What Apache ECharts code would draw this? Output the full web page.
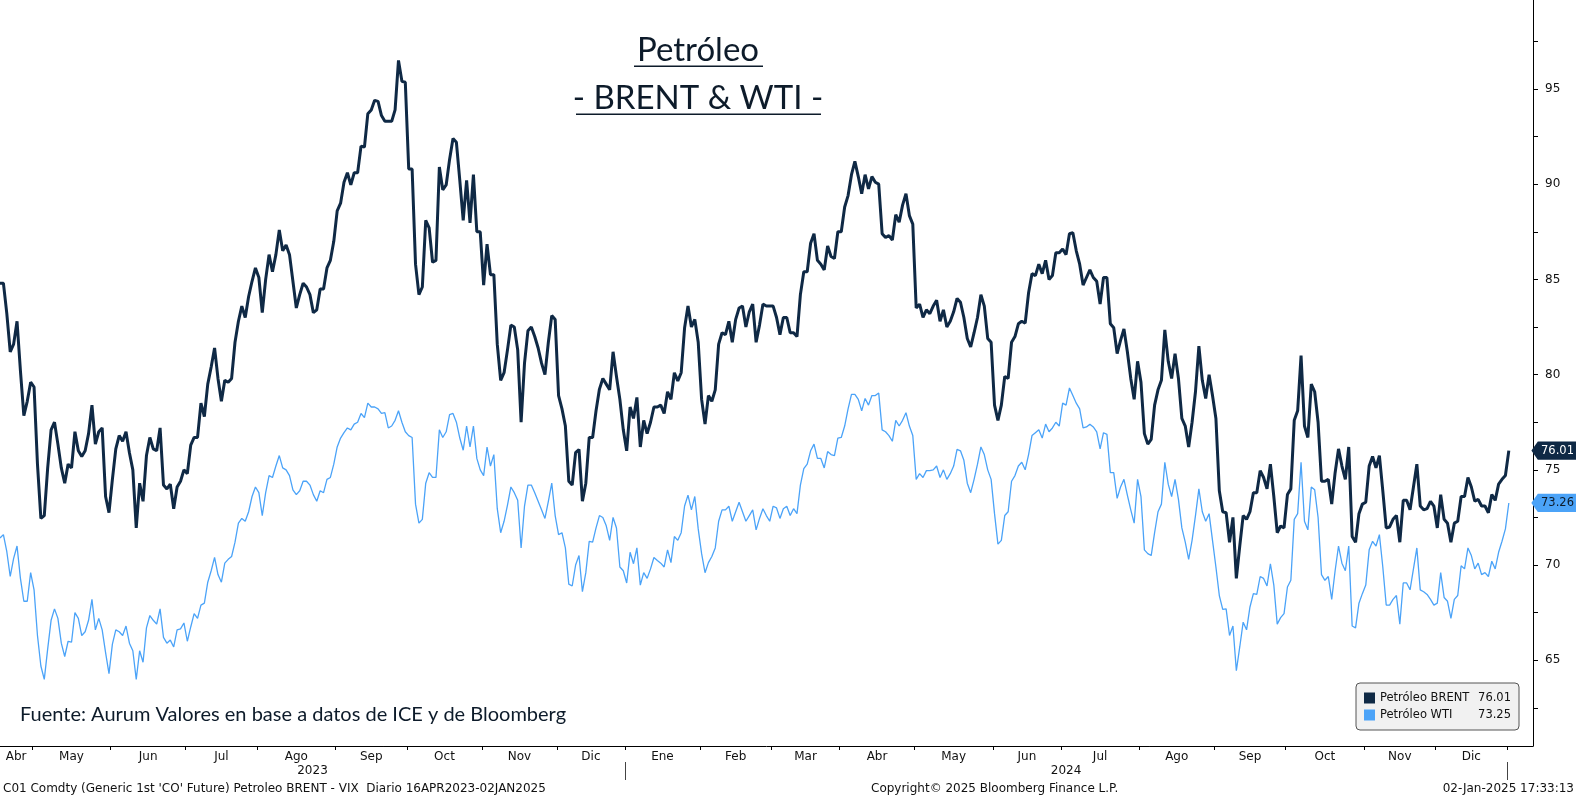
<!DOCTYPE html>
<html>
<head>
<meta charset="utf-8">
<script src="https://cdn.jsdelivr.net/npm/echarts/dist/echarts.min.js"></script>
<style>html,body{margin:0;padding:0;background:#fff}#c{width:1576px;height:798px}</style>
</head>
<body>
<div id="c"></div>
<script>
// Daily series, one value per trading day (16-Apr-2023 .. 02-Jan-2025), index = trading day
const brent = [
84.8,84.8,83.2,81.2,81.6,82.8,80.2,77.85,78.6,79.6,
79.35,75.3,72.45,72.6,75.1,77.1,77.5,76.35,75.1,74.3,
75.3,75.1,77.0,76.0,75.7,76.0,76.9,78.4,76.35,77.0,
77.2,73.6,72.75,74.5,76.1,76.8,76.5,77.0,75.9,75.0,
71.95,74.3,73.35,75.75,76.7,76.1,76.0,77.2,74.2,74.0,
74.25,72.96,74.1,74.4,75.0,74.8,76.3,76.7,76.7,78.5,
77.8,79.5,80.4,81.4,79.8,78.6,79.7,79.6,79.8,81.7,
82.8,83.6,83.0,84.1,84.9,85.6,85.1,83.25,85.0,86.3,
85.4,86.3,87.6,86.5,86.8,86.3,84.9,83.5,84.2,84.8,
84.6,84.2,83.25,83.4,84.5,84.5,85.6,86.0,87.0,88.6,
89.0,90.1,90.6,89.96,90.6,90.6,92.0,91.95,93.7,93.9,
94.4,94.35,93.6,93.3,93.3,93.3,93.9,96.5,95.4,95.35,
90.8,90.8,85.8,84.2,84.6,88.1,87.7,85.9,86.0,90.9,
89.7,89.96,91.3,92.4,92.2,90.2,88.1,90.2,87.97,90.5,
87.5,87.5,84.7,86.85,85.25,85.25,81.6,79.7,80.1,81.3,
82.6,82.5,81.3,77.5,80.6,82.3,82.5,82.0,81.4,80.6,
80.0,81.7,83.1,82.9,78.9,78.2,77.3,74.4,74.2,75.9,
76.07,73.35,74.3,76.7,76.7,78.1,79.24,79.8,79.5,79.2,
81.2,79.9,78.7,77.1,76.0,78.3,77.7,78.8,76.2,77.6,
76.9,77.5,78.3,78.3,78.4,77.96,79.1,78.7,80.1,79.67,
80.1,82.46,83.6,82.5,82.9,81.7,78.7,77.4,78.9,78.6,
79.2,81.6,82.2,82.1,82.8,81.7,82.9,83.5,83.6,82.5,
83.3,83.7,81.7,82.6,83.7,83.6,83.6,83.6,83.0,82.1,
83.0,83.0,82.2,82.2,82.0,84.2,85.4,85.4,86.9,87.4,
86.0,85.8,85.5,86.75,86.2,86.1,87.5,87.5,88.8,89.4,
90.5,91.2,90.4,89.5,90.5,89.75,90.4,90.1,90.0,87.4,
87.2,87.3,87.07,88.4,88.0,88.9,89.5,88.35,87.9,83.5,
83.7,83.0,83.4,83.2,83.6,83.9,82.8,83.4,82.5,82.8,
83.3,84.0,83.8,83.0,81.9,81.45,82.2,83.0,84.2,83.6,
81.9,81.7,78.4,77.6,78.4,79.9,79.8,81.7,82.0,82.67,
82.8,82.7,84.3,85.3,85.2,85.8,85.3,86.0,85.0,85.2,
86.4,86.4,86.6,86.3,87.4,87.45,86.5,85.8,84.7,85.1,
85.5,85.1,84.9,83.7,85.1,85.1,82.67,82.46,81.1,81.8,
82.4,81.2,79.8,78.7,80.7,79.6,76.9,76.35,76.6,78.4,
79.2,79.7,82.35,80.7,79.8,81.1,79.8,77.7,77.3,76.2,
77.5,79.1,81.5,79.7,78.75,80.0,78.9,77.7,73.9,72.8,
72.75,71.2,72.5,69.3,71.0,72.6,72.4,72.8,73.8,73.8,
74.96,74.6,74.0,75.3,73.6,71.7,72.05,71.95,73.7,74.0,
77.6,78.1,81.0,77.3,76.7,79.5,79.1,77.5,74.4,74.4,
74.5,73.2,74.85,76.1,75.2,74.5,76.2,71.5,71.2,72.7,
73.2,73.3,75.2,75.7,75.1,75.75,73.9,71.95,72.0,72.4,
72.6,71.2,73.4,73.4,72.9,74.1,75.3,73.1,72.9,72.96,
73.35,73.1,71.95,73.7,72.4,72.2,71.2,72.2,72.3,73.6,
73.6,74.6,74.1,73.35,73.45,73.1,73.1,72.75,73.7,73.4,
74.25,74.5,74.7,76.01
];
const wti = [
71.42,71.6,70.7,69.4,70.35,71.0,69.3,68.1,68.1,69.6,
68.7,66.3,64.7,64.0,65.6,67.1,67.7,67.2,65.9,65.2,
66.0,65.95,67.5,67.2,66.3,66.5,67.1,68.2,66.6,67.2,
66.6,65.4,64.3,65.85,66.6,66.5,66.3,66.8,65.9,65.5,
64.0,65.5,64.9,66.7,67.35,67.1,66.9,67.7,66.2,65.9,
66.06,65.7,66.6,66.65,66.96,66.0,66.75,67.45,67.2,67.9,
68.0,69.1,69.7,70.4,69.5,69.1,70.1,70.3,70.45,71.2,
72.2,72.45,72.3,72.8,73.6,74.1,73.8,72.6,73.8,74.7,
74.6,75.2,75.75,75.1,75.0,74.7,73.95,73.7,73.9,74.4,
74.4,74.2,73.7,73.35,73.9,73.8,74.5,74.6,75.3,76.2,
76.67,76.95,77.2,77.1,77.4,77.5,77.96,77.74,78.5,78.3,
78.3,78.2,77.96,78.0,77.2,77.3,77.6,78.1,77.5,77.0,
76.8,76.7,73.2,72.2,72.4,74.3,74.85,74.6,74.6,77.1,
76.7,77.0,77.9,77.96,77.5,76.67,76.03,77.3,76.2,77.3,
75.6,75.0,74.7,76.2,75.2,75.8,72.96,71.7,72.3,73.15,
74.1,73.8,73.4,70.9,73.1,74.2,74.2,73.8,73.35,72.9,
72.45,73.35,74.3,72.6,71.6,71.7,70.9,69.0,68.9,70.0,
70.5,68.6,69.6,71.25,71.2,71.95,72.6,72.5,72.06,71.3,
72.5,71.95,69.9,69.7,69.06,70.67,70.07,70.9,68.95,69.6,
69.3,69.8,70.4,70.24,70.1,69.9,70.8,70.13,71.5,71.3,
71.7,73.1,73.67,72.9,73.6,71.9,70.6,69.6,70.13,70.45,
70.9,72.3,72.9,72.9,73.09,72.3,72.8,73.3,72.8,72.3,
72.6,72.9,71.85,72.45,72.96,72.6,72.3,73.09,73.0,72.45,
72.96,73.09,72.6,72.96,72.7,74.2,75.06,75.3,76.0,76.35,
75.6,75.6,75.1,75.96,75.8,75.75,76.67,76.7,77.3,78.2,
78.96,78.96,78.7,78.1,78.75,78.4,78.9,78.9,79.03,77.1,
77.0,76.8,76.5,77.6,77.3,77.6,78.0,77.3,76.8,74.5,
74.8,74.6,74.96,74.96,75.0,75.2,74.6,75.0,74.5,74.8,
75.2,76.07,76.0,75.5,74.3,73.8,74.5,75.3,76.2,75.8,
75.0,74.5,72.7,71.1,71.3,72.6,72.8,74.4,74.7,75.2,
75.4,75.0,75.8,76.8,76.95,77.1,76.67,77.4,77.0,77.2,
77.5,77.3,78.5,78.4,79.3,78.9,78.5,78.2,77.2,77.25,
77.4,77.25,77.0,76.1,76.95,76.86,74.85,74.85,73.5,74.1,
74.5,73.67,72.9,72.2,74.5,73.6,70.8,70.6,70.5,71.7,
72.8,73.2,75.4,74.25,73.6,74.5,73.45,71.95,71.2,70.3,
71.3,72.6,74.0,72.8,72.3,72.7,71.3,69.9,68.4,67.67,
67.7,66.3,66.8,64.45,65.7,67.0,66.6,67.8,68.5,68.46,
69.4,69.3,68.9,70.07,68.95,66.9,67.24,67.45,68.85,69.2,
72.4,72.7,75.4,72.3,71.85,74.1,73.95,72.5,69.5,69.2,
69.4,68.2,69.7,71.0,70.1,69.7,71.0,66.8,66.7,68.0,
68.5,68.95,70.8,71.25,71.0,71.6,69.9,67.9,67.9,68.2,
68.4,66.9,69.06,69.06,68.7,69.8,70.9,68.7,68.6,68.46,
68.2,67.9,68.0,69.6,68.3,68.1,67.2,68.2,68.4,69.96,
69.8,70.9,70.5,69.8,70.1,69.5,69.6,69.4,70.2,69.8,
70.67,71.25,71.9,73.26
];
// Month names and index of first trading day of each month (last entry = Jan 2025)
const monthNames = ['Abr','May','Jun','Jul','Ago','Sep','Oct','Nov','Dic','Ene','Feb','Mar','Abr','May','Jun','Jul','Ago','Sep','Oct','Nov','Dic'];
const monthStart = [0,10,33,55,76,99,120,142,164,184,206,227,247,269,292,312,335,357,378,401,422,443];
const yearNames = ['2023','2024'];
const yearStart = [0,184,443];
const yLabels = [65,70,75,80,85,90,95];
const yTicks = [62.5,65,67.5,70,72.5,75,77.5,80,82.5,85,87.5,90,92.5,95,97.5];
const seriesNames = ['Petróleo BRENT','Petróleo WTI'];
const legendValues = ['76.01','73.25'];
const lastValues = [76.01,73.26];

const X_MAX = 450.1;
const C_BRENT = '#0f2945';
const C_WTI = '#4ba3f8';
const FONT = 'DejaVu Sans, Verdana, sans-serif';

const monthTicks = monthStart.slice(1).map(i => i - 0.5);
const monthLabelPos = [];
const monthLabelMap = new Map();
for (let k = 0; k < monthNames.length; k++) {
  const a = k === 0 ? 0 : monthStart[k] - 0.5;
  const b = monthStart[k + 1] - 0.5;
  const p = (a + b) / 2;
  monthLabelPos.push(p);
  monthLabelMap.set(p, monthNames[k]);
}
const yearTicks = yearStart.slice(1).map(i => i - 0.5);
const yearLabelPos = [];
const yearLabelMap = new Map();
for (let k = 0; k < yearNames.length; k++) {
  const a = k === 0 ? 0 : yearStart[k] - 0.5;
  const b = yearStart[k + 1] - 0.5;
  const p = (a + b) / 2;
  yearLabelPos.push(p);
  yearLabelMap.set(p, yearNames[k]);
}
function lookup(map, v) {
  if (map.has(v)) return map.get(v);
  let best = '', d = 1e9;
  map.forEach((name, key) => { if (Math.abs(key - v) < d) { d = Math.abs(key - v); best = name; } });
  return d < 0.6 ? best : '';
}

const chart = echarts.init(document.getElementById('c'), null, {renderer: 'canvas'});

function endMarker(value, bg, fg) {
  return {
    silent: true,
    symbol: 'path://M0,9 L7,0 L50,0 L50,18 L7,18 Z',
    symbolSize: [43, 17],
    symbolKeepAspect: false,
    symbolOffset: [21.5, 0],
    itemStyle: {color: bg, borderColor: bg},
    label: {show: true, position: 'inside', offset: [3, 0], color: fg, fontSize: 11.5, fontFamily: FONT,
            formatter: () => value.toFixed(2)},
    data: [{coord: [X_MAX, value], value: value}]
  };
}

chart.setOption({
  animation: false,
  backgroundColor: '#ffffff',
  grid: {left: 0, right: 43, top: 0, bottom: 52, containLabel: false},
  xAxis: [{
    type: 'value', min: 0, max: X_MAX, position: 'bottom',
    axisLine: {show: true, onZero: false, lineStyle: {color: '#000', width: 1}},
    axisTick: {show: true, customValues: monthTicks, length: 4, lineStyle: {color: '#000'}},
    axisLabel: {show: true, customValues: monthLabelPos, formatter: v => lookup(monthLabelMap, v),
                margin: 5, fontSize: 12, color: '#111', fontFamily: FONT},
    splitLine: {show: false}
  }, {
    type: 'value', min: 0, max: X_MAX, position: 'bottom', offset: 16,
    axisLine: {show: false},
    axisTick: {show: true, customValues: yearTicks, length: 18, lineStyle: {color: '#444'}},
    axisLabel: {show: true, customValues: yearLabelPos, formatter: v => lookup(yearLabelMap, v),
                margin: 3, fontSize: 12, color: '#111', fontFamily: FONT},
    splitLine: {show: false}
  }],
  yAxis: {
    type: 'value', position: 'right', min: 60.5, max: 99.67,
    axisLine: {show: true, onZero: false, lineStyle: {color: '#000', width: 1}},
    axisTick: {show: true, customValues: yTicks, length: 5, lineStyle: {color: '#000'}},
    axisLabel: {show: true, customValues: yLabels, margin: 12, fontSize: 12, color: '#111', fontFamily: FONT},
    splitLine: {show: false}
  },
  legend: {
    orient: 'vertical', left: 1356, top: 683,
    padding: [9, 8, 9, 8], itemGap: 5, itemWidth: 11, itemHeight: 11, icon: 'rect',
    backgroundColor: '#f1f1f1', borderColor: '#555', borderWidth: 1, borderRadius: 4,
    data: seriesNames,
    formatter: name => '{n|' + name + '}{v|' + legendValues[seriesNames.indexOf(name)] + '}',
    textStyle: {fontFamily: FONT, fontSize: 11.5, color: '#111',
      rich: {n: {width: 95, fontFamily: FONT, fontSize: 11.5, color: '#111'},
             v: {width: 36, align: 'right', fontFamily: FONT, fontSize: 11.5, color: '#111'}}},
    selectedMode: false
  },
  graphic: [
    {type: 'text', x: 698, y: 50, style: {text: 'Petróleo', font: '33px Lato', fill: '#0d1b2a',
      textAlign: 'center', textVerticalAlign: 'middle', align: 'center', verticalAlign: 'middle'}},
    {type: 'rect', shape: {x: 634, y: 65.5, width: 129, height: 1.5}, style: {fill: '#0d1b2a'}},
    {type: 'text', x: 698, y: 98, style: {text: '- BRENT & WTI -', font: '33px Lato', fill: '#0d1b2a',
      textAlign: 'center', textVerticalAlign: 'middle', align: 'center', verticalAlign: 'middle'}},
    {type: 'rect', shape: {x: 576, y: 113.5, width: 245, height: 1.5}, style: {fill: '#0d1b2a'}},
    {type: 'text', x: 20, y: 715, style: {text: 'Fuente: Aurum Valores en base a datos de ICE y de Bloomberg',
      font: '20px Lato', fill: '#0d1b2a', textAlign: 'left', textVerticalAlign: 'middle', align: 'left', verticalAlign: 'middle'}},
    {type: 'text', x: 3, y: 789, style: {text: "C01 Comdty (Generic 1st 'CO' Future) Petroleo BRENT - VIX  Diario 16APR2023-02JAN2025",
      font: '12px ' + FONT, fill: '#111', textAlign: 'left', textVerticalAlign: 'middle', align: 'left', verticalAlign: 'middle'}},
    {type: 'text', x: 871, y: 789, style: {text: 'Copyright© 2025 Bloomberg Finance L.P.',
      font: '12px ' + FONT, fill: '#111', textAlign: 'left', textVerticalAlign: 'middle', align: 'left', verticalAlign: 'middle'}},
    {type: 'text', x: 1574, y: 789, style: {text: '02-Jan-2025 17:33:13',
      font: '12px ' + FONT, fill: '#111', textAlign: 'right', textVerticalAlign: 'middle', align: 'right', verticalAlign: 'middle'}}
  ],
  series: [{
    name: seriesNames[1], type: 'line', data: wti.map((v, i) => [i, v]),
    showSymbol: false, symbol: 'none', smooth: false, z: 2,
    lineStyle: {color: C_WTI, width: 1.3}, itemStyle: {color: C_WTI},
    markPoint: endMarker(lastValues[1], C_WTI, '#0d1b2a')
  }, {
    name: seriesNames[0], type: 'line', data: brent.map((v, i) => [i, v]),
    showSymbol: false, symbol: 'none', smooth: false, z: 3,
    lineStyle: {color: C_BRENT, width: 3}, itemStyle: {color: C_BRENT},
    markPoint: endMarker(lastValues[0], C_BRENT, '#ffffff')
  }]
});
</script>
</body>
</html>
